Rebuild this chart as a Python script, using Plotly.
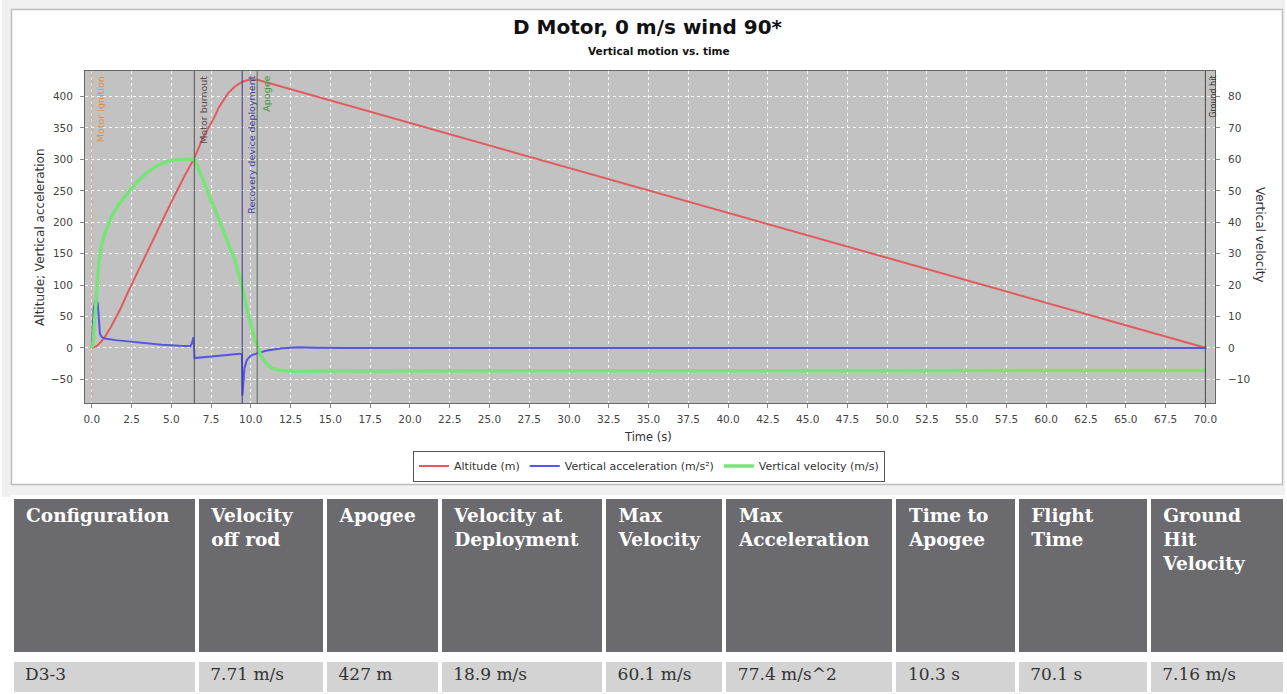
import plotly.graph_objects as go

W, H = 1287, 694

# ---------------- data ----------------
alt_t = [0.0, 0.3, 0.6, 0.83, 1.2, 1.8, 2.3, 3.0, 3.7, 4.39, 5.0, 5.8, 6.45, 7.0, 7.73, 8.0, 8.56, 9.0, 9.5, 9.9, 10.35, 70.05]
alt_v = [0, 3, 10, 18, 33, 62, 90, 127, 163, 200, 232, 272, 302, 335, 368, 383, 405, 416, 424, 426.5, 427, 0]

acc_t = [0.0, 0.05, 0.12, 0.22, 0.3, 0.38, 0.45, 0.52, 0.65, 0.83, 1.5, 2.3, 3.3, 4.4, 5.5, 6.2, 6.3, 6.4, 6.46, 6.8, 7.5, 8.5, 9.3, 9.44, 9.47, 9.52, 9.6, 9.75, 10.0, 10.35, 11.0, 12.0, 13.0, 14.0, 16.0, 70.05]
acc_v = [0, 40, 62, 75, 77.4, 70, 40, 22, 17, 15, 12.5, 10.5, 7.5, 5, 3.5, 3, 8, 17, -16, -15, -13, -11, -9, -10, -76, -55, -32, -19, -12, -9, -4, -0.5, 1, 0.5, 0, 0]

vel_t = [0.0, 0.1, 0.2, 0.3, 0.46, 0.63, 0.83, 1.25, 1.7, 2.3, 2.8, 3.34, 3.9, 4.39, 4.9, 5.43, 6.0, 6.45, 7.0, 7.52, 8.0, 8.56, 9.0, 9.46, 9.8, 10.2, 10.65, 11.0, 11.3, 11.8, 12.8, 15.0, 30.0, 50.0, 70.05]
vel_v = [0, 2, 10, 18, 28, 33, 36.5, 41.8, 45.8, 49.5, 52.5, 55.3, 57.3, 58.7, 59.5, 59.9, 60.1, 60.1, 53.5, 47, 41, 34, 28, 19.5, 11.2, 3.7, -2.7, -5, -6.4, -7.1, -7.4, -7.3, -7.2, -7.2, -7.16]

event_names = ["Motor ignition", "Motor burnout", "Recovery device deployment", "Apogee", "Ground hit"]
event_times = [0.0, 6.45, 9.46, 10.4, 70.0]
event_line_colors = ["rgba(230,140,60,0.35)", "#555555", "#3a3a85", "#5c6a5c", "#444444"]
event_text_colors = ["#e0903c", "#5a4c4c", "#3d3d99", "#3c9a3c", "#333333"]

table_headers = ["Configuration", "Velocity<br>off rod", "Apogee", "Velocity at<br>Deployment",
                 "Max<br>Velocity", "Max<br>Acceleration", "Time to<br>Apogee", "Flight<br>Time",
                 "Ground<br>Hit<br>Velocity"]
table_row = ["D3-3", "7.71 m/s", "427 m", "18.9 m/s", "60.1 m/s", "77.4 m/s^2", "10.3 s", "70.1 s", "7.16 m/s"]
col_widths = [185.8, 128.7, 115.1, 164.9, 120.7, 170.6, 122.7, 132.5, 136.3]


def px(x):
    return x / W


def py(y):
    return 1 - y / H


PL, PR, PT, PB = 83.3, 1216.7, 71, 403

fig = go.Figure()

fig.add_trace(go.Scatter(x=vel_t, y=vel_v, mode="lines", name="Vertical velocity (m/s)",
                         line=dict(color="#78e478", width=3.5), yaxis="y2", legendrank=3))
fig.add_trace(go.Scatter(x=alt_t, y=alt_v, mode="lines", name="Altitude (m)",
                         line=dict(color="#e25a5e", width=2), legendrank=1))
fig.add_trace(go.Scatter(x=acc_t, y=acc_v, mode="lines", name="Vertical acceleration (m/s²)",
                         line=dict(color="#5656e4", width=2), legendrank=2))

# tables
pad = "\u00a0"
fig.add_trace(go.Table(
    domain=dict(x=[px(9.7), 1], y=[py(657), py(497)]),
    columnwidth=col_widths,
    header=dict(values=["<b>" + pad + h.replace("<br>", "<br>" + pad) + "</b>" for h in table_headers],
                fill_color="#6b6a6f", line=dict(color="white", width=4), align="left",
                font=dict(family="DejaVu Serif", size=18.5, color="white"), height=157),
    cells=dict(values=[[""] for _ in table_headers], height=1, fill_color="white",
               line=dict(color="white", width=0)),
))
fig.add_trace(go.Table(
    domain=dict(x=[px(9.7), 1], y=[0, py(659.7)]),
    columnwidth=col_widths,
    header=dict(values=[pad + v for v in table_row],
                fill_color="#d3d3d3", line=dict(color="white", width=4), align="left",
                font=dict(family="DejaVu Serif", size=17, color="#333333"), height=34),
    cells=dict(values=[[""] for _ in table_row], height=1, fill_color="white",
               line=dict(color="white", width=0)),
))

shapes = []
# light frame around chart panel
band = "#f0f0f0"
for x0, y0, x1, y1 in [(0, 0, W, 9), (0, 0, 9, 497), (1285, 0, W, 497), (0, 485, W, 497)]:
    shapes.append(dict(type="rect", xref="paper", yref="paper", x0=px(x0), x1=px(x1), y0=py(y1), y1=py(y0),
                       fillcolor=band, line=dict(width=0), layer="below"))
shapes.append(dict(type="rect", xref="paper", yref="paper", x0=px(9.5), x1=px(1284.5), y0=py(484.5), y1=py(9.5),
                   line=dict(color="#bdbdbd", width=1.5), fillcolor="rgba(0,0,0,0)", layer="below"))

annotations = []
for name, t, lc, tc in zip(event_names, event_times, event_line_colors, event_text_colors):
    shapes.append(dict(type="line", xref="x", yref="y domain", x0=t, x1=t, y0=0, y1=1,
                       line=dict(color=lc, width=1), layer="above"))
    annotations.append(dict(text=name, x=t, xref="x", y=1, yref="y domain", xanchor="left", yanchor="top",
                            xshift=1, yshift=-3, textangle=-90, showarrow=False,
                            font=dict(family="DejaVu Sans", size=9.5 if name != "Ground hit" else 8, color=tc)))


def pann(text, x, y, size, angle=0, color="#333333"):
    return dict(text=text, x=px(x), y=py(y), xref="paper", yref="paper", xanchor="center", yanchor="middle",
                textangle=angle, showarrow=False, font=dict(family="DejaVu Sans", size=size, color=color))


annotations += [
    pann("<b>D Motor, 0 m/s wind 90*</b>", 648, 27, 20, color="#111111"),
    pann("<b>Vertical motion vs. time</b>", 659, 51, 10.5, color="#111111"),
    pann("Altitude; Vertical acceleration", 38, 237, 12, angle=-90),
    pann("Vertical velocity", 1262, 235, 12, angle=90),
    pann("Time (s)", 648, 437, 11.5),
]

tickfont = dict(family="DejaVu Sans", size=10.5, color="#444444")
fig.update_layout(
    width=W, height=H, margin=dict(l=0, r=0, t=0, b=0),
    paper_bgcolor="white", plot_bgcolor="#c2c2c2",
    xaxis=dict(domain=[px(PL), px(PR)], range=[-0.42, 70.6], dtick=2.5, tick0=0, tickformat=".1f",
               showgrid=True, gridcolor="rgba(255,255,255,0.9)", griddash="dot", gridwidth=1,
               zeroline=False, ticks="outside", ticklen=4, tickcolor="#888888",
               showline=True, mirror=True, linecolor="#666666", linewidth=1, tickfont=tickfont,
               ticklabelstandoff=2),
    yaxis=dict(domain=[py(PB), py(PT)], range=[-87.5, 440.6], dtick=50, tick0=0,
               showgrid=True, gridcolor="rgba(255,255,255,0.9)", griddash="dot", gridwidth=1,
               zeroline=False, ticks="outside", ticklen=4, tickcolor="#888888",
               showline=True, mirror=True, linecolor="#666666", linewidth=1, tickfont=tickfont,
               ticklabelstandoff=5),
    yaxis2=dict(overlaying="y", side="right", range=[-17.5, 88.12], dtick=10, tick0=0,
                showgrid=False, zeroline=False, ticks="outside", ticklen=4, tickcolor="#888888",
                tickfont=tickfont, ticklabelstandoff=6),
    showlegend=True,
    legend=dict(orientation="h", x=px(649), xanchor="center", y=py(466), yanchor="middle",
                bordercolor="#555555", borderwidth=1, bgcolor="white", itemwidth=30,
                font=dict(family="DejaVu Sans", size=11, color="#333333")),
    shapes=shapes, annotations=annotations,
)

fig.write_html("out.html", config={"displayModeBar": False},
               post_script="document.body.style.margin='0px';")
